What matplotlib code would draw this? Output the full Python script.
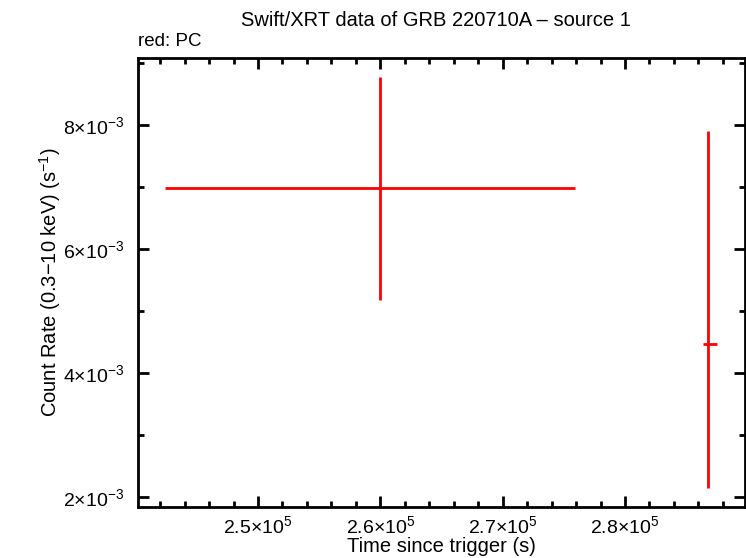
import matplotlib
matplotlib.use('Agg')
import matplotlib.pyplot as plt
from matplotlib.ticker import MultipleLocator, FuncFormatter

plt.rcParams['font.family'] = ['Liberation Sans', 'DejaVu Sans']
plt.rcParams['mathtext.fontset'] = 'custom'
plt.rcParams['mathtext.rm'] = 'Liberation Sans'
plt.rcParams['mathtext.it'] = 'Liberation Sans'

# PC mode data
t = [259970, 286790]
t_lo = [242400, 286380]
t_hi = [275910, 287520]
rate = [6.984e-3, 4.463e-3]
rate_lo = [5.177e-3, 2.14e-3]
rate_hi = [8.774e-3, 7.903e-3]

xerr = [[a - b for a, b in zip(t, t_lo)], [b - a for a, b in zip(t, t_hi)]]
yerr = [[a - b for a, b in zip(rate, rate_lo)], [b - a for a, b in zip(rate, rate_hi)]]

fig = plt.figure(figsize=(7.46, 5.58), dpi=100)
ax = fig.add_axes([138/746, 51/558, 607/746, 449/558])

ax.errorbar(t, rate, xerr=xerr, yerr=yerr, fmt='none', ecolor='#ff0000',
            elinewidth=2, capsize=0)

ax.set_xlim(240190, 289810)
ax.set_ylim(1.84e-3, 9.08e-3)

ax.xaxis.set_major_locator(MultipleLocator(10000))
ax.xaxis.set_minor_locator(MultipleLocator(2000))
ax.yaxis.set_major_locator(MultipleLocator(2e-3))
ax.yaxis.set_minor_locator(MultipleLocator(1e-3))

ax.xaxis.set_major_formatter(FuncFormatter(lambda v, p: r'$\mathregular{%.1f{\times}10^{5}}$' % (v / 1e5)))
ax.yaxis.set_major_formatter(FuncFormatter(lambda v, p: r'$\mathregular{%d{\times}10^{-3}}$' % round(v * 1e3)))

ax.tick_params(which='both', direction='in', top=True, right=True, width=2, labelsize=14)
ax.tick_params(axis='x', which='major', pad=6)
ax.tick_params(axis='y', which='major', pad=10)
ax.tick_params(which='major', length=8)
ax.tick_params(which='minor', length=4)
for s in ax.spines.values():
    s.set_linewidth(2)

ax.set_xlabel('Time since trigger (s)', fontsize=14.5, labelpad=0)
ax.set_ylabel(r'Count Rate (0.3$-$10 keV) (s$^{-1}$)', fontsize=14.5, labelpad=0)
fig.text(436/746, 1 - 20/558, 'Swift/XRT data of GRB 220710A \u2013 source 1', ha='center', va='center', fontsize=14.5)
fig.text(138/746, 1 - 42/558, 'red: PC', ha='left', va='center', fontsize=13.5)

fig.savefig('out.png', dpi=100)
